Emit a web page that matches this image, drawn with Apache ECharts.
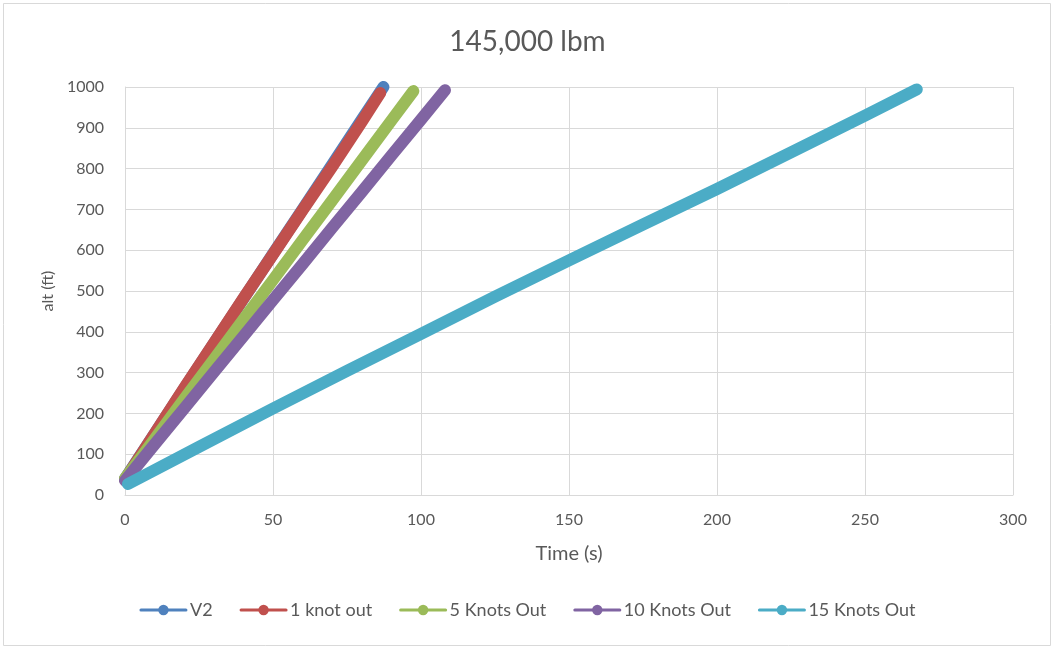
<!DOCTYPE html>
<html>
<head>
<meta charset="utf-8">
<title>145,000 lbm</title>
<script src="https://cdn.jsdelivr.net/npm/echarts@6/dist/echarts.min.js"></script>
<style>
  html, body { margin: 0; padding: 0; background: #ffffff; }
  #chart { width: 1055px; height: 650px; }
</style>
</head>
<body>
<div id="chart"></div>
<script>
// Climb profiles: time (s) vs altitude (ft)
const chartTitle = '145,000 lbm';
const seriesNames = ['V2', '1 knot out', '5 Knots Out', '10 Knots Out', '15 Knots Out'];
const seriesColors = ['#4F81BD', '#C0504D', '#9BBB59', '#8064A2', '#4BACC6'];

const v2Time = [0, 10, 20, 30, 40, 50, 60, 70, 80, 87.3];
const v2Alt  = [40, 150, 261, 371, 481, 591, 700, 810, 920, 1000];

const knot1Time = [0, 10, 20, 30, 40, 50, 60, 70, 80, 86.2];
const knot1Alt  = [38, 150, 262, 372, 482, 590, 698, 805, 915, 985];

const knot5Time = [0, 10, 20, 30, 40, 50, 60, 70, 80, 90, 97.4];
const knot5Alt  = [40, 137, 235, 332, 430, 527, 625, 722, 820, 918, 990];

const knot10Time = [0, 10, 20, 30, 40, 50, 60, 70, 80, 90, 100, 108.1];
const knot10Alt  = [35, 124, 212, 301, 389, 478, 566, 655, 743, 832, 920, 992];

const knot15Time = [1, 25, 50, 75, 100, 125, 150, 175, 200, 225, 250, 267.5];
const knot15Alt  = [27, 118, 212, 304, 395, 486, 575, 663, 750, 840, 930, 994];

const xTicks = { min: 0, max: 300, interval: 50 };
const yTicks = { min: 0, max: 1000, interval: 100 };

const seriesTimes = [v2Time, knot1Time, knot5Time, knot10Time, knot15Time];
const seriesAlts  = [v2Alt, knot1Alt, knot5Alt, knot10Alt, knot15Alt];

const textColor = '#595959';
const gridColor = '#d9d9d9';
const fontFamily = 'Lato, "Open Sans", sans-serif';

const chart = echarts.init(document.getElementById('chart'), null, { renderer: 'canvas' });

const series = seriesNames.map((name, i) => ({
  name: name,
  type: 'line',
  data: seriesTimes[i].map((t, k) => [t, seriesAlts[i][k]]),
  symbol: 'circle',
  symbolSize: 11,
  showSymbol: false,
  smooth: false,
  color: seriesColors[i],
  lineStyle: { width: 12, cap: 'round', join: 'round', color: seriesColors[i] },
  emphasis: { disabled: true },
  animation: false
}));

chart.setOption({
  animation: false,
  backgroundColor: '#ffffff',
  title: {
    text: chartTitle,
    left: 'center',
    top: 23,
    textStyle: { color: textColor, fontFamily: fontFamily, fontSize: 28, fontWeight: 'normal' }
  },
  graphic: [{
    type: 'rect',
    shape: { x: 3.5, y: 3.5, width: 1047, height: 642 },
    style: { fill: 'none', stroke: gridColor, lineWidth: 1 },
    silent: true
  }],
  grid: { left: 125, right: 42, top: 87, bottom: 155, containLabel: false },
  legend: {
    data: seriesNames,
    bottom: 26,
    left: 'center',
    itemWidth: 45,
    itemHeight: 13,
    itemGap: 27,
    lineStyle: { width: 3 },
    textStyle: { color: textColor, fontFamily: fontFamily, fontSize: 18, padding: [0, 0, 0, -1] }
  },
  xAxis: {
    type: 'value',
    min: xTicks.min,
    max: xTicks.max,
    interval: xTicks.interval,
    name: 'Time (s)',
    nameLocation: 'middle',
    nameGap: 49,
    nameTextStyle: { color: textColor, fontFamily: fontFamily, fontSize: 20 },
    axisLine: { show: true, lineStyle: { color: gridColor, width: 1 } },
    axisTick: { show: false },
    axisLabel: { color: textColor, fontFamily: fontFamily, fontSize: 16, margin: 17 },
    splitLine: { show: true, lineStyle: { color: gridColor, width: 1 } }
  },
  yAxis: {
    type: 'value',
    min: yTicks.min,
    max: yTicks.max,
    interval: yTicks.interval,
    name: 'alt (ft)',
    nameLocation: 'middle',
    nameGap: 69,
    nameRotate: 90,
    nameTextStyle: { color: textColor, fontFamily: fontFamily, fontSize: 16 },
    axisLine: { show: true, lineStyle: { color: gridColor, width: 1 } },
    axisTick: { show: false },
    axisLabel: {
      color: textColor, fontFamily: fontFamily, fontSize: 16, margin: 21,
      formatter: (v) => String(v)
    },
    splitLine: { show: true, lineStyle: { color: gridColor, width: 1 } }
  },
  series: series
});
</script>
</body>
</html>
